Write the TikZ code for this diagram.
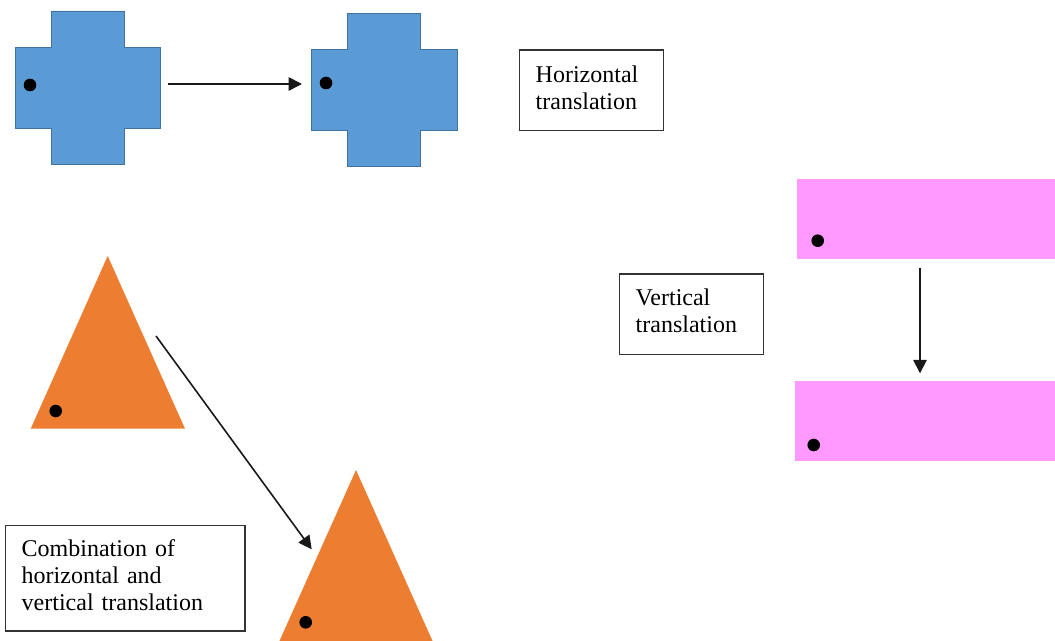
\documentclass[tikz,border=0pt]{standalone}
\usepackage{fontspec}
\setmainfont{Liberation Serif}
\usetikzlibrary{arrows.meta, positioning}

\definecolor{crossblue}{HTML}{5B9BD5}
\definecolor{crossedge}{HTML}{41719C}
\definecolor{triorange}{HTML}{ED7D31}
\definecolor{rectpink}{HTML}{FF99FF}

\begin{document}
\begin{tikzpicture}[
    x=0.75pt, y=-0.75pt,
    crossfill/.style={fill=crossblue, draw=crossedge, line width=0.5pt},
    trifill/.style={fill=triorange},
    rectfill/.style={fill=rectpink},
    marker/.style={fill=black},
    movearrow/.style={-{Triangle[length=10pt, width=10pt]}, line width=1.2pt, black!90},
    notebox/.style={draw=black!80, line width=1.1pt, anchor=north west, align=left, inner xsep=12pt, inner ysep=0pt, font=\fontsize{18}{20}\selectfont}
]
    \clip (0,0) rectangle (1055,641);

    % Crosses
    \foreach \cx/\cy in {15/11, 311.7/13.3}
        \fill[crossfill] (\cx+36,\cy) -- ++(73,0) -- ++(0,36.5) -- ++(36.7,0) -- ++(0,80.5)
            -- ++(-36.7,0) -- ++(0,36.5) -- ++(-73,0) -- ++(0,-36.5) -- ++(-36,0)
            -- ++(0,-80.5) -- ++(36,0) -- cycle;

    % Triangles
    \fill[trifill] (30.7,428.7) -- (107.7,256) -- (185,428.7) -- cycle;
    \fill[trifill] (278.7,642.7) -- (356,470) -- (433.3,642.7) -- cycle;

    % Bars
    \fill[rectfill] (796.7,179) rectangle (1056,259);
    \fill[rectfill] (795,380.7) rectangle (1056,460.7);

    % Reference points
    \foreach \px/\py in {30/85, 326/83, 817.7/240.7, 813.7/445, 55.7/411, 305.7/622.3}
        \fill[marker] (\px,\py) circle (6.3);

    % Arrow ends
    \coordinate (h1) at (168,84);
    \coordinate (h2) at (302,84);
    \coordinate (v1) at (920,267.7);
    \coordinate (v2) at (920,373.3);
    \coordinate (d1) at (156,336);
    \coordinate (d2) at (311.7,549.3);

    \draw[movearrow] (h1) -- (h2);
    \draw[movearrow] (v1) -- (v2);
    \draw[movearrow] (d1) -- (d2);

    % Labels
    \node[notebox, text width=83.8pt, text depth=24.5pt, minimum height=60.5pt] (horiz) at (519,49.3)
        {Horizontal\\translation};
    \node[notebox, text width=83.8pt, text depth=26pt, minimum height=60.5pt] (vert) at (619,273.3)
        {Vertical\\translation};
    \node[notebox, text width=155.5pt, text depth=45pt, minimum height=78.8pt] (combo) at (5,525)
        {Combination of\\horizontal and\\vertical translation};
\end{tikzpicture}
\end{document}
